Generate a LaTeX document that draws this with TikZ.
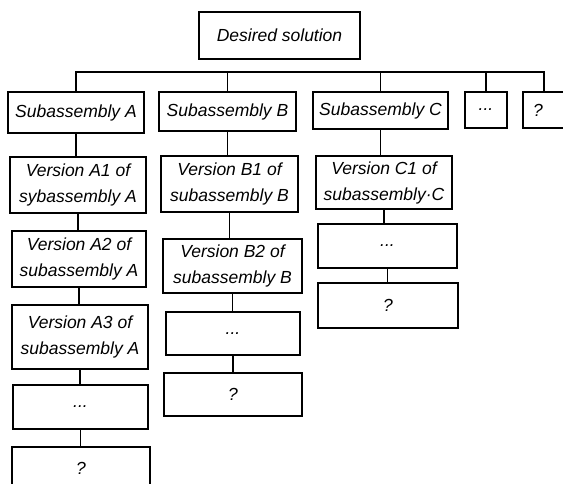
\documentclass[tikz,border=0pt]{standalone}
\usepackage{fontspec}
\setmainfont{Liberation Sans}

\tikzset{
	blok/.style={draw, line width=1.6pt, inner sep=0pt, align=center,
		font=\itshape\fontsize{17.5}{26}\selectfont},
	svyaz/.style={line width=1.6pt}
}

\begin{document}
\begin{tikzpicture}[x=1pt, y=-1pt]
				% Рамка картинки
				\useasboundingbox (0,0) rectangle (563,484);
				
				% Верхний блок
				\node[blok, minimum width=161pt, minimum height=47pt] (D) at (279.5,35.5) {Desired solution};
				\coordinate (shina) at (0,72);
				
				% Узлы первого уровня
				\node[blok, minimum width=136pt, minimum height=41pt] (SA) at (76,112.5) {Subassembly A};
				\node[blok, minimum width=137pt, minimum height=39pt] (SB) at (227.5,111.5) {Subassembly B};
				\node[blok, minimum width=135pt, minimum height=37pt] (SC) at (380.5,110.5) {Subassembly C};
				\node[blok, minimum width=42pt, minimum height=36pt] (Sd) at (486,110) {...};
				\node[blok, minimum height=36pt, text width=22pt, align=left, inner xsep=10pt] (Sq) at (544,110) {?};
				
				% Ветка A
				\node[blok, minimum width=136pt, minimum height=56pt] (A1) at (78,185) {Version A1 of\\sybassembly A};
				\node[blok, minimum width=134pt, minimum height=56pt] (A2) at (79,259) {Version A2 of\\subassembly A};
				\node[blok, minimum width=136pt, minimum height=64pt] (A3) at (80,337) {Version A3 of\\subassembly A};
				\node[blok, minimum width=135pt, minimum height=44pt] (Ad) at (80.5,407) {...};
				\node[blok, minimum width=138pt, minimum height=43pt] (Aq) at (81,468.5) {?};
				
				% Ветка B
				\node[blok, minimum width=137pt, minimum height=56pt] (B1) at (229.5,184) {Version B1 of\\subassembly B};
				\node[blok, minimum width=139pt, minimum height=54pt] (B2) at (232.5,266) {Version B2 of\\subassembly B};
				\node[blok, minimum width=134pt, minimum height=43pt] (Bd) at (233,333.5) {...};
				\node[blok, minimum width=138pt, minimum height=43pt] (Bq) at (233,394.5) {?};
				
				% Ветка C
				\node[blok, minimum width=136pt, minimum height=53pt] (C1) at (384,182.5) {Version C1 of\\subassembly·C};
				\node[blok, minimum width=139pt, minimum height=44pt] (Cd) at (387.5,246) {...};
				\node[blok, minimum width=140pt, minimum height=45pt] (Cq) at (388,305.5) {?};
				
				% Общая шина и отводы
				\draw[svyaz] (SA.north) |- (Sq.north |- shina) -- (Sq.north);
				\foreach \n in {SB, SC, Sd}
				\draw[svyaz] (\n.north |- shina) -- (\n.north);
				
				% Вертикальные связи
				\foreach \a/\b in {SA/A1, A1/A2, A2/A3, A3/Ad, Ad/Aq, SB/B1, B1/B2, B2/Bd, Bd/Bq, SC/C1, C1/Cd, Cd/Cq}
				\draw[svyaz] (\a.south) -- (\a.south |- \b.north);
			\end{tikzpicture}
\end{document}
